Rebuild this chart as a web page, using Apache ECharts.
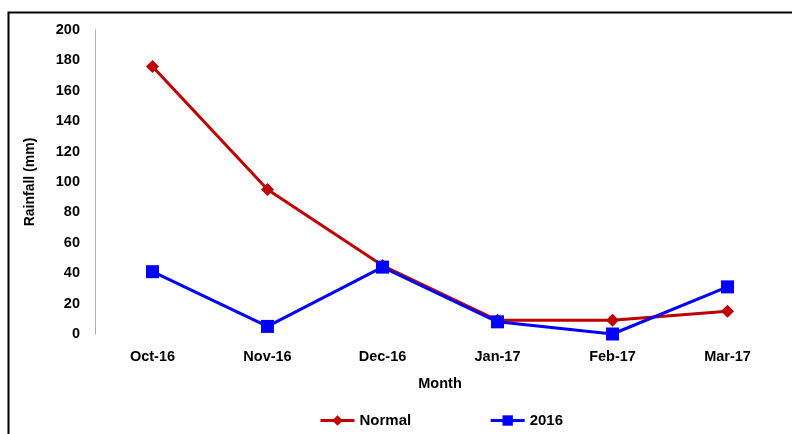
<!DOCTYPE html>
<html><head><meta charset="utf-8">
<script src="https://cdn.jsdelivr.net/npm/echarts@6/dist/echarts.min.js"></script>
<style>html,body{margin:0;padding:0;background:#fff}#c{width:792px;height:434px}</style>
</head><body><div id="c"></div>
<script>
var months = ['Oct-16','Nov-16','Dec-16','Jan-17','Feb-17','Mar-17'];
var normal = [176, 95, 45, 9, 9, 15];
var y2016 = [41, 5, 44, 8, 0, 31];
var chart = echarts.init(document.getElementById('c'));
var font = 'Liberation Sans, Arial, sans-serif';
chart.setOption({
  animation: false,
  graphic: [{type:'rect', shape:{x:8.5,y:12.5,width:800,height:440}, style:{fill:'none',stroke:'#000',lineWidth:2}, z:-1}],
  grid: {left: 95, right: 7, top: 30, bottom: 100},
  legend: {
    top: 413, left: 319, padding: 0, itemGap: 78, itemWidth: 34, itemHeight: 13,
    lineStyle: {width: 3},
    textStyle: {fontFamily: font, fontWeight: 'bold', fontSize: 15, color: '#000'},
    data: ['Normal', '2016']
  },
  xAxis: {
    type: 'category', data: months, boundaryGap: true,
    axisLine: {show: false}, axisTick: {show: false},
    axisLabel: {fontFamily: font, fontWeight: 'bold', fontSize: 14.5, color: '#000', margin: 15},
    name: 'Month', nameLocation: 'middle', nameGap: 42,
    nameTextStyle: {fontFamily: font, fontWeight: 'bold', fontSize: 14.5, color: '#000'}
  },
  yAxis: {
    type: 'value', min: 0, max: 200, interval: 20,
    axisLine: {show: true, lineStyle: {color: '#b0b0b0', width: 1}},
    axisTick: {show: false}, splitLine: {show: false},
    axisLabel: {fontFamily: font, fontWeight: 'bold', fontSize: 14.5, color: '#000', margin: 15},
    name: 'Rainfall (mm)', nameLocation: 'middle', nameGap: 58, nameRotate: 90,
    nameTextStyle: {fontFamily: font, fontWeight: 'bold', fontSize: 14, color: '#000'}
  },
  series: [
    {name:'Normal', type:'line', data: normal, symbol:'diamond', symbolSize: 13,
     lineStyle:{color:'#c00000', width:3}, itemStyle:{color:'#c00000'}},
    {name:'2016', type:'line', data: y2016, symbol:'rect', symbolSize: 13,
     lineStyle:{color:'#0000ff', width:3}, itemStyle:{color:'#0000ff'}}
  ]
});
</script></body></html>
